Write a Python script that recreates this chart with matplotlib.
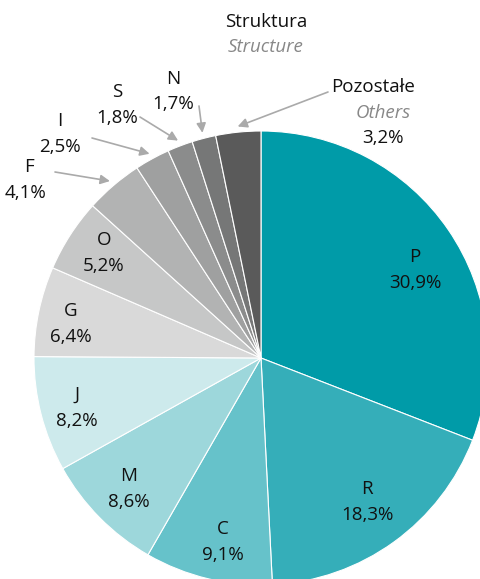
import numpy as np
import matplotlib.pyplot as plt

# data, clockwise from 12 o'clock
codes = ['P', 'R', 'C', 'M', 'J', 'G', 'O', 'F', 'I', 'S', 'N', 'Pozostałe']
shares = [30.9, 18.3, 9.1, 8.6, 8.2, 6.4, 5.2, 4.1, 2.5, 1.8, 1.7, 3.2]
colors = ['#009ba8', '#35aeb9', '#66c2ca', '#9dd7db', '#cdeaec', '#d9d9d9',
          '#c6c7c7', '#b2b3b3', '#9fa0a0', '#8b8c8c', '#767777', '#5a5a5a']

plt.rcParams['font.family'] = ['Open Sans', 'DejaVu Sans']
plt.rcParams['font.weight'] = 500

W, H = 481, 579
fig = plt.figure(figsize=(W / 100, H / 100), dpi=100)
ax = fig.add_axes([0, 0, 1, 1])


def P(x, y):
    # pixel (top-left origin) -> data coords
    return x, H - y


cx, cy = P(261, 358)
R = 227
wedges, _ = ax.pie(shares, colors=colors, startangle=90, counterclock=False,
                   center=(cx, cy), radius=R,
                   wedgeprops=dict(edgecolor='white', linewidth=0.8))
ax.set_xlim(0, W)
ax.set_ylim(0, H)
ax.axis('off')


def fmt(v):
    return f'{v:.1f}%'.replace('.', ',')


fs = 13.5
ink = '#111111'
grey = '#888888'
# labels inside the pie (text positions in pixels)
inside = {'P': (415, 257), 'R': (367, 489), 'C': (223, 529), 'M': (129, 476),
          'J': (77, 395), 'G': (71, 311), 'O': (104, 240)}
for code, v in zip(codes, shares):
    if code in inside:
        x, y = inside[code]
        ax.text(*P(x, y), code, ha='center', va='center', fontsize=fs, color=ink)
        ax.text(*P(x, y + 26), fmt(v), ha='center', va='center', fontsize=fs, color=ink)

# small slices, labelled outside with arrows
outside = {'F': ((29, 167), (26, 193), (55, 172)),
           'I': ((60, 121), (60, 147), (92, 138)),
           'S': ((117, 92), (117, 118), (140, 117)),
           'N': ((173, 79), (173, 104), (199, 106))}

cum = np.cumsum([0] + shares)
for i, (code, v) in enumerate(zip(codes, shares)):
    mid = np.deg2rad(90 - (cum[i] + v / 2) / 100 * 360)
    tip = (cx + 1.025 * R * np.cos(mid), cy + 1.025 * R * np.sin(mid))
    arrow = dict(arrowstyle='-|>', color='#aaaaaa', lw=1.2, mutation_scale=14,
                 shrinkA=0, shrinkB=0)
    if code in outside:
        (lx, ly), (px, py), start = outside[code]
        ax.text(*P(lx, ly), code, ha='center', va='center', fontsize=fs, color=ink)
        ax.text(*P(px, py), fmt(v), ha='center', va='center', fontsize=fs, color=ink)
        ax.annotate('', xy=tip, xytext=P(*start), arrowprops=arrow)
    elif code == 'Pozostałe':
        ax.text(*P(373, 87), 'Pozostałe', ha='center', va='center', fontsize=fs, color=ink)
        ax.text(*P(383, 113), 'Others', ha='center', va='center', fontsize=fs,
                color=grey, style='italic')
        ax.text(*P(383, 138), fmt(v), ha='center', va='center', fontsize=fs, color=ink)
        ax.annotate('', xy=tip, xytext=P(328, 92), arrowprops=arrow)

ax.text(*P(266, 22), 'Struktura', ha='center', va='center', fontsize=fs, color=ink)
ax.text(*P(266, 47), 'Structure', ha='center', va='center', fontsize=fs,
        color=grey, style='italic')

fig.savefig('out.png', dpi=100)
